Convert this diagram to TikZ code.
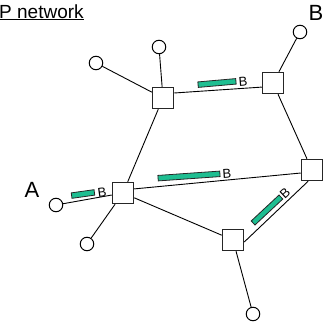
\documentclass[tikz,border=0pt]{standalone}
\usepackage{fontspec}
\setmainfont{Liberation Sans}
\usepackage{tikz}
\usetikzlibrary{positioning}

\definecolor{linkgreen}{RGB}{30,190,145}

\begin{document}
\begin{tikzpicture}[x=1pt,y=-1pt,
    router/.style={draw=black!85,line width=1pt,fill=white,minimum size=21.5pt,inner sep=0},
    host/.style={circle,draw,line width=1pt,fill=white,minimum size=13.5pt,inner sep=0},
    link/.style={line width=0.9pt},
    bar/.style={draw=black!85,line width=0.8pt,fill=linkgreen,minimum height=5.5pt,inner sep=0},
    lbl/.style={inner sep=0,font=\fontsize{13}{13}\selectfont},
    big/.style={inner sep=0,font=\fontsize{22}{22}\selectfont}]
                  \useasboundingbox (0,0) rectangle (325,325);
                  \node[anchor=base west,inner sep=0,font=\fontsize{19}{19}\selectfont] (title) at (-1,18) {\underline{P network}};
                  % routers
                  \node[router] (r1) at (163,98) {};
                  \node[router] (r2) at (273,83) {};
                  \node[router] (r3) at (312,170) {};
                  \node[router] (r4) at (233,240) {};
                  \node[router] (r5) at (123,193) {};
                  % hosts
                  \node[host] (h1) at (96,63) {};
                  \node[host] (h2) at (159,47) {};
                  \node[host] (h3) at (300,32) {};
                  \node[host] (h4) at (56,205) {};
                  \node[host] (h5) at (87,244) {};
                  \node[host] (h6) at (253,314) {};
                  % links
                  \draw[link] (h1) -- (r1);
                  \draw[link] (h2) -- (r1);
                  \draw[link] (r1.24) -- (r2.200);
                  \draw[link] (r2) -- (h3);
                  \draw[link] (r2) -- (r3);
                  \draw[link] (r1) -- (r5);
                  \draw[link] (h4) -- (r5);
                  \draw[link] (r5) -- (h5);
                  \draw[link] (r5.20) -- (r3.195);
                  \draw[link] (r5) -- (r4);
                  \draw[link] (r4.-10) -- (r3.251);
                  \draw[link] (r4) -- (h6);
                  % reserved bandwidth
                  \node[bar,minimum width=23pt,rotate=8] (b1) at (83,194) {};
                  \node[lbl,rotate=8] at (102,192) {B};
                  \node[bar,minimum width=62pt,rotate=4] (b2) at (189,176) {};
                  \node[lbl,rotate=4] at (227,174) {B};
                  \node[bar,minimum width=38pt,rotate=5] (b3) at (217,83) {};
                  \node[lbl,rotate=5] at (243,82) {B};
                  \node[bar,minimum width=38pt,rotate=43] (b4) at (267,210) {};
                  \node[lbl,rotate=43] at (285,193) {B};
                  \node[big] (lA) at (32,190) {A};
                  \node[big] (lB) at (316,13) {B};
              \end{tikzpicture}
\end{document}
